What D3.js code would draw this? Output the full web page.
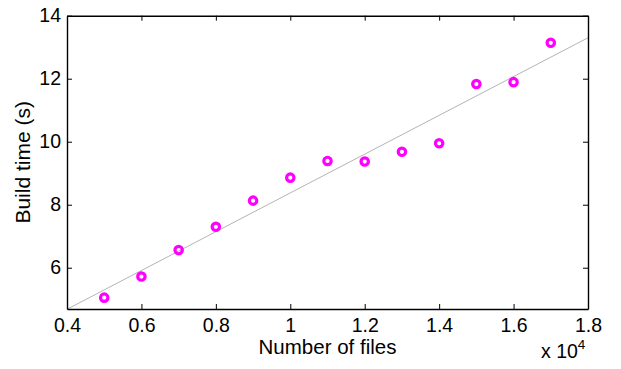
<!DOCTYPE html>
<html>
<head>
<meta charset="utf-8">
<script src="https://cdn.jsdelivr.net/npm/d3@7/dist/d3.min.js"></script>
<style>
  body { margin: 0; background: #fff; }
  text { font-family: "Liberation Sans", Arial, Helvetica, sans-serif; }
</style>
</head>
<body>
<div id="chart"></div>
<script>
// number of files (x 10^4) and build time in seconds
const files = [0.5, 0.6, 0.7, 0.8, 0.9, 1.0, 1.1, 1.2, 1.3, 1.4, 1.5, 1.6, 1.7];
const buildTime = [5.05, 5.72, 6.56, 7.30, 8.13, 8.86, 9.39, 9.37, 9.68, 9.95, 11.83, 11.89, 13.14];
const xTicks = [0.4, 0.6, 0.8, 1, 1.2, 1.4, 1.6, 1.8];
const yTicks = [6, 8, 10, 12, 14];

const W = 621, H = 369;
const margin = { top: 15.7, right: 33, bottom: 60, left: 67 };
const width = W - margin.left - margin.right;
const height = H - margin.top - margin.bottom;

const svg = d3.select("#chart")
  .append("svg")
  .attr("width", W)
  .attr("height", H)
  .append("g")
  .attr("transform", `translate(${margin.left}, ${margin.top})`);

const x = d3.scaleLinear().domain([0.4, 1.8]).range([0, width]);
const y = d3.scaleLinear().domain([4.69, 14]).range([height, 0]);

// least squares fit line
const mx = d3.mean(files), my = d3.mean(buildTime);
const slope = d3.sum(files, (f, i) => (f - mx) * (buildTime[i] - my)) / d3.sum(files, f => (f - mx) ** 2);
const icpt = my - slope * mx;
const fit = x.domain().map(v => [v, icpt + slope * v]);

svg.append("path")
  .attr("d", d3.line().x(d => x(d[0])).y(d => y(d[1]))(fit))
  .attr("stroke", "#b4b4b4")
  .attr("stroke-width", 1)
  .attr("fill", "none");

svg.append("g")
  .selectAll("circle")
  .data(files)
  .enter()
  .append("circle")
  .attr("cx", d => x(d))
  .attr("cy", (d, i) => y(buildTime[i]))
  .attr("r", 3.7)
  .attr("fill", "none")
  .attr("stroke", "#ff00ff")
  .attr("stroke-width", 3.2);

// axes, ticks pointing inward like matlab
const tl = 5;
const fs = 19.5;
const fmt = d => d3.format("~g")(d);
const xb = svg.append("g")
  .attr("transform", `translate(0, ${height})`)
  .call(d3.axisBottom(x).tickValues(xTicks).tickFormat(fmt).tickSizeInner(-tl).tickSizeOuter(0).tickPadding(9));
const xt = svg.append("g")
  .call(d3.axisTop(x).tickValues(xTicks).tickFormat("").tickSizeInner(-tl).tickSizeOuter(0));
const yl = svg.append("g")
  .call(d3.axisLeft(y).tickValues(yTicks).tickFormat(fmt).tickSizeInner(-tl).tickSizeOuter(0).tickPadding(6));
const yr = svg.append("g")
  .attr("transform", `translate(${width}, 0)`)
  .call(d3.axisRight(y).tickValues(yTicks).tickFormat("").tickSizeInner(-tl).tickSizeOuter(0));

[xb, xt, yl, yr].forEach(g => {
  g.selectAll("path.domain").attr("stroke", "#000").attr("stroke-width", 1.4);
  g.selectAll(".tick line").attr("stroke", "#000").attr("stroke-width", 1);
  g.selectAll("text").attr("font-size", fs).attr("fill", "#000")
    .style("font-family", "'Liberation Sans', Arial, sans-serif");
});

svg.append("text")
  .attr("x", width / 2)
  .attr("y", height + 45)
  .attr("text-anchor", "middle")
  .attr("font-size", 20.5)
  .text("Number of files");

const exp = svg.append("text")
  .attr("x", width - 47)
  .attr("y", height + 49)
  .attr("font-size", fs)
  .text("x 10");
exp.append("tspan")
  .attr("dy", -9)
  .attr("font-size", 13.5)
  .text("4");

svg.append("text")
  .attr("transform", `translate(${-37}, ${height / 2}) rotate(-90)`)
  .attr("text-anchor", "middle")
  .attr("font-size", 21)
  .text("Build time (s)");
</script>
</body>
</html>
